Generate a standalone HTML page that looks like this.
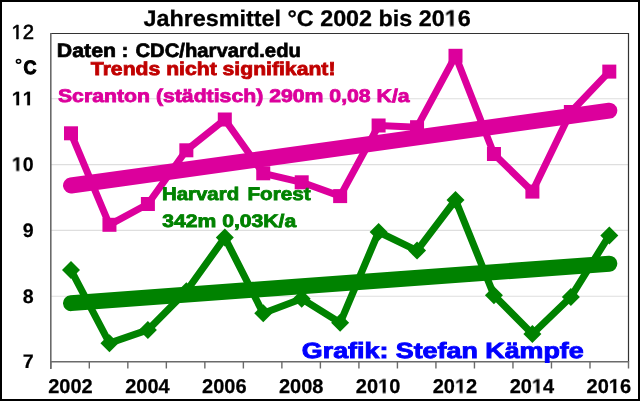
<!DOCTYPE html><html><head><meta charset="utf-8"><style>html,body{margin:0;padding:0;background:#fff;overflow:hidden}svg{display:block}text{font-family:"Liberation Sans",sans-serif;font-weight:bold;will-change:transform;text-rendering:geometricPrecision}</style></head><body>
<svg width="640" height="401" viewBox="0 0 640 401">
<rect x="0" y="0" width="640" height="401" fill="#fff"/>
<line x1="51" x2="628" y1="98.80" y2="98.80" stroke="#DEDEDE" stroke-width="1.1"/>
<line x1="51" x2="628" y1="164.60" y2="164.60" stroke="#DEDEDE" stroke-width="1.1"/>
<line x1="51" x2="628" y1="230.40" y2="230.40" stroke="#DEDEDE" stroke-width="1.1"/>
<line x1="51" x2="628" y1="296.20" y2="296.20" stroke="#DEDEDE" stroke-width="1.1"/>
<path d="M50.8 33.5 H628.5 V362" fill="none" stroke="#333" stroke-width="1.2"/>
<line x1="50.8" x2="50.8" y1="33" y2="369" stroke="#6a6a6a" stroke-width="1.6"/>
<line x1="50" x2="629" y1="361.8" y2="361.8" stroke="#6a6a6a" stroke-width="1.6"/>
<line x1="50.80" x2="50.80" y1="361" y2="368.5" stroke="#6a6a6a" stroke-width="1.4"/>
<line x1="89.31" x2="89.31" y1="361" y2="368.5" stroke="#6a6a6a" stroke-width="1.4"/>
<line x1="127.83" x2="127.83" y1="361" y2="368.5" stroke="#6a6a6a" stroke-width="1.4"/>
<line x1="166.34" x2="166.34" y1="361" y2="368.5" stroke="#6a6a6a" stroke-width="1.4"/>
<line x1="204.85" x2="204.85" y1="361" y2="368.5" stroke="#6a6a6a" stroke-width="1.4"/>
<line x1="243.37" x2="243.37" y1="361" y2="368.5" stroke="#6a6a6a" stroke-width="1.4"/>
<line x1="281.88" x2="281.88" y1="361" y2="368.5" stroke="#6a6a6a" stroke-width="1.4"/>
<line x1="320.39" x2="320.39" y1="361" y2="368.5" stroke="#6a6a6a" stroke-width="1.4"/>
<line x1="358.91" x2="358.91" y1="361" y2="368.5" stroke="#6a6a6a" stroke-width="1.4"/>
<line x1="397.42" x2="397.42" y1="361" y2="368.5" stroke="#6a6a6a" stroke-width="1.4"/>
<line x1="435.93" x2="435.93" y1="361" y2="368.5" stroke="#6a6a6a" stroke-width="1.4"/>
<line x1="474.45" x2="474.45" y1="361" y2="368.5" stroke="#6a6a6a" stroke-width="1.4"/>
<line x1="512.96" x2="512.96" y1="361" y2="368.5" stroke="#6a6a6a" stroke-width="1.4"/>
<line x1="551.47" x2="551.47" y1="361" y2="368.5" stroke="#6a6a6a" stroke-width="1.4"/>
<line x1="589.99" x2="589.99" y1="361" y2="368.5" stroke="#6a6a6a" stroke-width="1.4"/>
<line x1="628.50" x2="628.50" y1="361" y2="368.5" stroke="#6a6a6a" stroke-width="1.4"/>
<polyline points="71.00,133.30 109.45,224.80 147.90,204.00 186.35,150.30 224.80,119.50 263.25,173.30 301.70,182.30 340.15,196.10 378.60,125.50 417.05,127.20 455.50,55.80 493.95,154.00 532.40,191.60 570.85,112.00 609.30,71.60" fill="none" stroke="#DC009C" stroke-width="7" stroke-linejoin="round"/>
<polyline points="71.00,270.10 109.45,343.20 147.90,329.90 186.35,291.30 224.80,237.60 263.25,313.30 301.70,298.70 340.15,322.80 378.60,232.00 417.05,250.60 455.50,200.00 493.95,295.20 532.40,334.00 570.85,297.00 609.30,235.40" fill="none" stroke="#008200" stroke-width="7.1" stroke-linejoin="round"/>
<rect x="64.00" y="126.30" width="14" height="14" fill="#DC009C"/>
<rect x="102.45" y="217.80" width="14" height="14" fill="#DC009C"/>
<rect x="140.90" y="197.00" width="14" height="14" fill="#DC009C"/>
<rect x="179.35" y="143.30" width="14" height="14" fill="#DC009C"/>
<rect x="217.80" y="112.50" width="14" height="14" fill="#DC009C"/>
<rect x="256.25" y="166.30" width="14" height="14" fill="#DC009C"/>
<rect x="294.70" y="175.30" width="14" height="14" fill="#DC009C"/>
<rect x="333.15" y="189.10" width="14" height="14" fill="#DC009C"/>
<rect x="371.60" y="118.50" width="14" height="14" fill="#DC009C"/>
<rect x="410.05" y="120.20" width="14" height="14" fill="#DC009C"/>
<rect x="448.50" y="48.80" width="14" height="14" fill="#DC009C"/>
<rect x="486.95" y="147.00" width="14" height="14" fill="#DC009C"/>
<rect x="525.40" y="184.60" width="14" height="14" fill="#DC009C"/>
<rect x="563.85" y="105.00" width="14" height="14" fill="#DC009C"/>
<rect x="602.30" y="64.60" width="14" height="14" fill="#DC009C"/>
<path d="M71.00 261.10 L80.00 270.10 L71.00 279.10 L62.00 270.10Z" fill="#008200"/>
<path d="M109.45 334.20 L118.45 343.20 L109.45 352.20 L100.45 343.20Z" fill="#008200"/>
<path d="M147.90 320.90 L156.90 329.90 L147.90 338.90 L138.90 329.90Z" fill="#008200"/>
<path d="M186.35 282.30 L195.35 291.30 L186.35 300.30 L177.35 291.30Z" fill="#008200"/>
<path d="M224.80 228.60 L233.80 237.60 L224.80 246.60 L215.80 237.60Z" fill="#008200"/>
<path d="M263.25 304.30 L272.25 313.30 L263.25 322.30 L254.25 313.30Z" fill="#008200"/>
<path d="M301.70 289.70 L310.70 298.70 L301.70 307.70 L292.70 298.70Z" fill="#008200"/>
<path d="M340.15 313.80 L349.15 322.80 L340.15 331.80 L331.15 322.80Z" fill="#008200"/>
<path d="M378.60 223.00 L387.60 232.00 L378.60 241.00 L369.60 232.00Z" fill="#008200"/>
<path d="M417.05 241.60 L426.05 250.60 L417.05 259.60 L408.05 250.60Z" fill="#008200"/>
<path d="M455.50 191.00 L464.50 200.00 L455.50 209.00 L446.50 200.00Z" fill="#008200"/>
<path d="M493.95 286.20 L502.95 295.20 L493.95 304.20 L484.95 295.20Z" fill="#008200"/>
<path d="M532.40 325.00 L541.40 334.00 L532.40 343.00 L523.40 334.00Z" fill="#008200"/>
<path d="M570.85 288.00 L579.85 297.00 L570.85 306.00 L561.85 297.00Z" fill="#008200"/>
<path d="M609.30 226.40 L618.30 235.40 L609.30 244.40 L600.30 235.40Z" fill="#008200"/>
<line x1="71.00" y1="185.49" x2="609.30" y2="110.69" stroke="#DC009C" stroke-width="16" stroke-linecap="round"/>
<line x1="71.00" y1="303.13" x2="609.30" y2="263.68" stroke="#008200" stroke-width="16" stroke-linecap="round"/>
<text id="t0" x="143.53" y="26.0" font-size="22.6" fill="#000" text-anchor="start" stroke="#000" stroke-width="0.3" textLength="327.18" lengthAdjust="spacingAndGlyphs">Jahresmittel °C 2002 bis 20 6</text>
<path d="M478 0V1170L140 959V1180L493 1409H759V0Z" transform="translate(444.74 26.00) scale(0.01140 -0.01104)" fill="#000" stroke="#000" stroke-width="27.2"/>
<text id="t1" x="56.81" y="56.9" font-size="19.4" fill="#000" text-anchor="start" stroke="#000" stroke-width="0.7" textLength="59.23" lengthAdjust="spacingAndGlyphs">Daten</text>
<text id="t2" x="124.9" y="56.9" font-size="19.4" fill="#000" text-anchor="middle" stroke="#000" stroke-width="0.7">:</text>
<text id="t3" x="135.49" y="56.9" font-size="19.4" fill="#000" text-anchor="start" stroke="#000" stroke-width="0.7" textLength="165.40" lengthAdjust="spacingAndGlyphs">CDC/harvard.edu</text>
<text id="t4" x="90.89" y="75.0" font-size="18.6" fill="#C00000" text-anchor="start" stroke="#C00000" stroke-width="0.8" textLength="244.56" lengthAdjust="spacingAndGlyphs">Trends nicht signifikant!</text>
<text id="t5" x="57.96" y="101.6" font-size="18.4" fill="#DC009C" text-anchor="start" stroke="#DC009C" stroke-width="0.8" textLength="351.67" lengthAdjust="spacingAndGlyphs">Scranton (städtisch) 290m 0,08 K/a</text>
<text id="t6" x="161.97" y="200.4" font-size="18.2" fill="#008200" text-anchor="start" stroke="#008200" stroke-width="0.8" textLength="77.15" lengthAdjust="spacingAndGlyphs">Harvard</text>
<text id="t7" x="247.45" y="200.4" font-size="18.2" fill="#008200" text-anchor="start" stroke="#008200" stroke-width="0.8" textLength="63.18" lengthAdjust="spacingAndGlyphs">Forest</text>
<text id="t8" x="162.38" y="226.6" font-size="18.0" fill="#008200" text-anchor="start" stroke="#008200" stroke-width="0.8" textLength="133.83" lengthAdjust="spacingAndGlyphs">342m 0,03K/a</text>
<text id="t9" x="301.83" y="357.6" font-size="22.0" fill="#0000FF" text-anchor="start" stroke="#0000FF" stroke-width="0.9" textLength="281.85" lengthAdjust="spacingAndGlyphs">Grafik: Stefan Kämpfe</text>
<text id="t10" x="33.6" y="105.2" font-size="19.6" fill="#000" text-anchor="end" stroke="#000" stroke-width="0.2">  </text>
<path d="M478 0V1170L140 959V1180L493 1409H759V0Z" transform="translate(11.80 105.20) scale(0.00957 -0.00957)" fill="#000" stroke="#000" stroke-width="20.9"/>
<path d="M478 0V1170L140 959V1180L493 1409H759V0Z" transform="translate(22.69 105.20) scale(0.00957 -0.00957)" fill="#000" stroke="#000" stroke-width="20.9"/>
<text id="t11" x="33.6" y="171.0" font-size="19.6" fill="#000" text-anchor="end" stroke="#000" stroke-width="0.2"> 0</text>
<path d="M478 0V1170L140 959V1180L493 1409H759V0Z" transform="translate(11.80 171.00) scale(0.00957 -0.00957)" fill="#000" stroke="#000" stroke-width="20.9"/>
<text id="t12" x="33.6" y="236.8" font-size="19.6" fill="#000" text-anchor="end" stroke="#000" stroke-width="0.2">9</text>
<text id="t13" x="33.6" y="302.6" font-size="19.6" fill="#000" text-anchor="end" stroke="#000" stroke-width="0.2">8</text>
<text id="t14" x="33.6" y="368.4" font-size="19.6" fill="#000" text-anchor="end" stroke="#000" stroke-width="0.2">7</text>
<text id="t15" x="34" y="39" font-size="20.3" fill="#000" text-anchor="end" stroke="#000" stroke-width="0.6" style="font-weight:normal"> 2</text>
<path d="M515 0V1237L197 1010V1180L530 1409H696V0Z" transform="translate(11.44 39.00) scale(0.00991 -0.00991)" fill="#000" stroke="#000" stroke-width="60.5"/>
<ellipse cx="18.55" cy="61.35" rx="2.15" ry="1.85" fill="none" stroke="#000" stroke-width="1.5"/>
<text id="t16" x="23.5" y="73.8" font-size="19.3" fill="#000" text-anchor="start" stroke="#000" stroke-width="1.1" textLength="13.00" lengthAdjust="spacingAndGlyphs">C</text>
<text id="t17" x="70.50" y="393.0" font-size="20.0" fill="#000" text-anchor="middle" stroke="#000" stroke-width="0.25">2002</text>
<text id="t18" x="147.40" y="393.0" font-size="20.0" fill="#000" text-anchor="middle" stroke="#000" stroke-width="0.25">2004</text>
<text id="t19" x="224.30" y="393.0" font-size="20.0" fill="#000" text-anchor="middle" stroke="#000" stroke-width="0.25">2006</text>
<text id="t20" x="301.20" y="393.0" font-size="20.0" fill="#000" text-anchor="middle" stroke="#000" stroke-width="0.25">2008</text>
<text id="t21" x="378.10" y="393.0" font-size="20.0" fill="#000" text-anchor="middle" stroke="#000" stroke-width="0.25">20 0</text>
<path d="M478 0V1170L140 959V1180L493 1409H759V0Z" transform="translate(378.08 393.00) scale(0.00977 -0.00977)" fill="#000" stroke="#000" stroke-width="25.6"/>
<text id="t22" x="455.00" y="393.0" font-size="20.0" fill="#000" text-anchor="middle" stroke="#000" stroke-width="0.25">20 2</text>
<path d="M478 0V1170L140 959V1180L493 1409H759V0Z" transform="translate(454.98 393.00) scale(0.00977 -0.00977)" fill="#000" stroke="#000" stroke-width="25.6"/>
<text id="t23" x="531.90" y="393.0" font-size="20.0" fill="#000" text-anchor="middle" stroke="#000" stroke-width="0.25">20 4</text>
<path d="M478 0V1170L140 959V1180L493 1409H759V0Z" transform="translate(531.88 393.00) scale(0.00977 -0.00977)" fill="#000" stroke="#000" stroke-width="25.6"/>
<text id="t24" x="608.80" y="393.0" font-size="20.0" fill="#000" text-anchor="middle" stroke="#000" stroke-width="0.25">20 6</text>
<path d="M478 0V1170L140 959V1180L493 1409H759V0Z" transform="translate(608.78 393.00) scale(0.00977 -0.00977)" fill="#000" stroke="#000" stroke-width="25.6"/>
<rect x="1" y="1" width="638" height="399" fill="none" stroke="#000" stroke-width="2"/>
</svg></body></html>
